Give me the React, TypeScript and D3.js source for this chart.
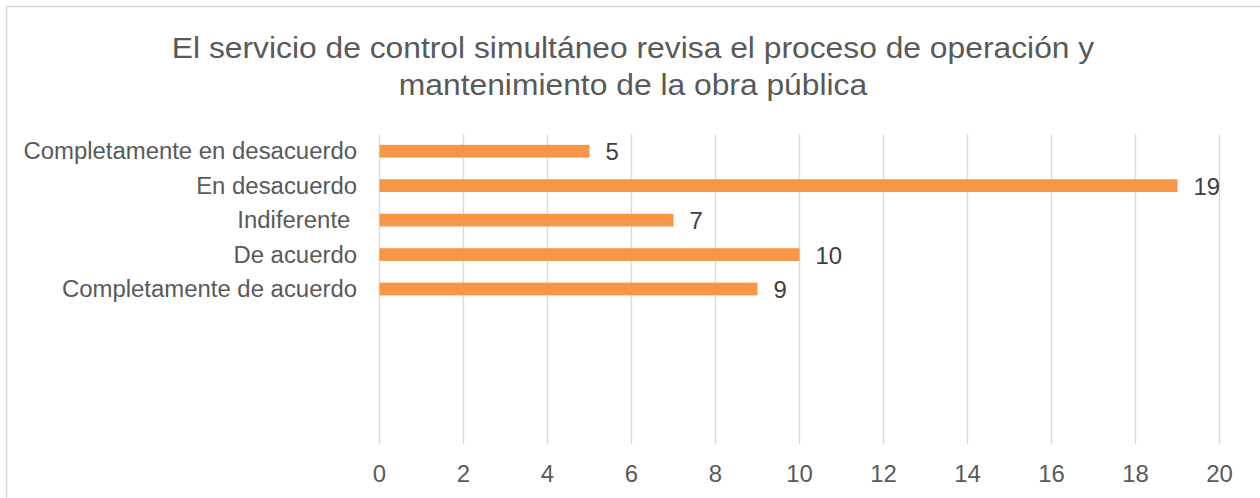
import React from "react";
import * as d3 from "d3";

const titleLines = [
  "El servicio de control simultáneo revisa el proceso de operación y",
  "mantenimiento de la obra pública",
];
const categories = [
  "Completamente en desacuerdo",
  "En desacuerdo",
  "Indiferente ",
  "De acuerdo",
  "Completamente de acuerdo",
  "",
  "",
  "",
  "",
];
const values: (number | null)[] = [5, 19, 7, 10, 9, null, null, null, null];
const xTicks = [0, 2, 4, 6, 8, 10, 12, 14, 16, 18, 20];

const W = 1260;
const H = 498;
const SX = 1.04;
const FONT = "'Liberation Sans', Arial, Helvetica, sans-serif";

function SText(props: {
  x: number;
  y: number;
  size: number;
  anchor: "start" | "middle" | "end";
  fill: string;
  sx?: number;
  children: React.ReactNode;
}) {
  const { x, y, size, anchor, fill, sx = SX, children } = props;
  return (
    <text
      transform={`translate(${x},${y}) scale(${sx},1)`}
      textAnchor={anchor}
      fontSize={size}
      fontFamily={FONT}
      fill={fill}
      style={{ whiteSpace: "pre" }}
    >
      {children}
    </text>
  );
}

export default function App() {
  const x = d3.scaleLinear().domain([0, 20]).range([379.5, 1219.5]);
  const y = d3
    .scaleBand<number>()
    .domain(categories.map((_, i) => i))
    .range([134, 444])
    .paddingInner(0.63)
    .paddingOuter(0.315);

  return (
    <div style={{ position: "absolute", left: 0, top: 0 }}>
      <svg width={W} height={H} style={{ display: "block", background: "#fff" }}>
        <rect x={6.5} y={6.5} width={1260} height={500} fill="#fff" stroke="#d9d9d9" strokeWidth={1.6} />
        {titleLines.map((t, i) => (
          <SText key={i} x={633} y={58 + i * 37} size={30} anchor="middle" fill="#595959" sx={1.06}>
            {t}
          </SText>
        ))}
        {xTicks.map((t) => (
          <line key={"g" + t} x1={x(t)} x2={x(t)} y1={134} y2={444} stroke="#d9d9d9" strokeWidth={1.3} />
        ))}
        {xTicks.map((t) => (
          <SText key={"t" + t} x={x(t)} y={482} size={23} anchor="middle" fill="#595959">
            {String(t)}
          </SText>
        ))}
        {categories.map((c, i) => {
          const cy = (y(i) as number) + y.bandwidth() / 2;
          const v = values[i];
          return (
            <g key={"c" + i}>
              {c && (
                <SText x={357} y={cy + 8} size={23} anchor="end" fill="#595959">
                  {c}
                </SText>
              )}
              {v != null && (
                <>
                  <rect x={x(0)} y={y(i)} width={x(v) - x(0)} height={y.bandwidth()} fill="#f79646" />
                  <SText x={x(v) + 16} y={cy + 9} size={23} anchor="start" fill="#404040">
                    {String(v)}
                  </SText>
                </>
              )}
            </g>
          );
        })}
      </svg>
    </div>
  );
}
